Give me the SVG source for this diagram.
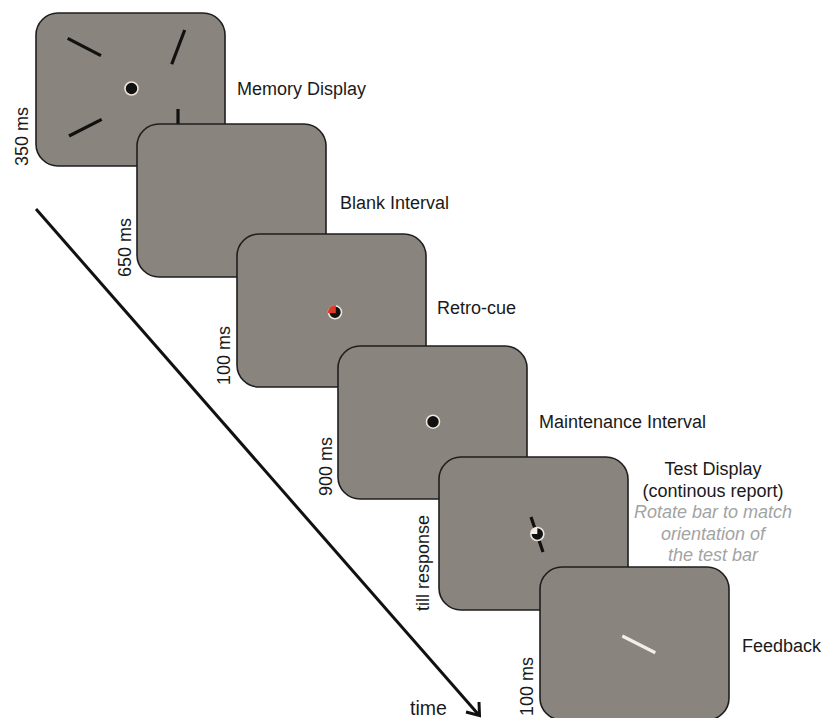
<svg xmlns="http://www.w3.org/2000/svg" width="822" height="718" viewBox="0 0 822 718">
<style>
.panel{fill:#8a847e;stroke:#1e1e1e;stroke-width:1.6}
.lbl{font-family:"Liberation Sans",Arial,sans-serif;font-size:18px;fill:#1a1a1a}
.note{font-family:"Liberation Sans",Arial,sans-serif;font-size:18px;fill:#a3a3a3;font-style:italic}
.bar{stroke:#111;stroke-width:3.2;stroke-linecap:butt}
.fix{fill:#111;stroke:#ece6dc;stroke-width:1.6}
</style>
<rect width="822" height="718" fill="#ffffff"/>
<g id="connectors">
<line x1="36" y1="209" x2="478" y2="714" stroke="#111" stroke-width="3"/>
<polyline points="479,702 479.5,715.5 466,712" fill="none" stroke="#111" stroke-width="3" stroke-linejoin="miter"/>
<text class="lbl" x="410" y="715" style="font-size:19.5px">time</text>
</g>
<g id="memory-display">
<rect class="panel" x="36" y="13" width="189" height="153" rx="22"/>
<line class="bar" x1="67.7" y1="38.3" x2="101" y2="55.7"/>
<line class="bar" x1="184.7" y1="30" x2="171.7" y2="64.3"/>
<line class="bar" x1="69" y1="136" x2="101.7" y2="119.3"/>
<line class="bar" x1="178" y1="109" x2="178" y2="146"/>
<circle class="fix" cx="131.5" cy="88.5" r="6.5"/>
<text class="lbl" x="237" y="95">Memory Display</text>
<text class="lbl" transform="translate(28,166) rotate(-90)">350 ms</text>
</g>
<g id="blank-interval">
<rect class="panel" x="137" y="124" width="189" height="153" rx="22"/>
<text class="lbl" x="340" y="209">Blank Interval</text>
<text class="lbl" transform="translate(130.5,277) rotate(-90)">650 ms</text>
</g>
<g id="retro-cue">
<rect class="panel" x="237" y="234" width="189" height="153" rx="22"/>
<circle class="fix" cx="335" cy="312.3" r="6.5"/>
<path d="M335.8,313.1 L327.8,313.1 A7.6,7.6 0 0 1 335.8,305 Z" fill="#e0392c"/>
<text class="lbl" x="437" y="314">Retro-cue</text>
<text class="lbl" transform="translate(229.5,385) rotate(-90)">100 ms</text>
</g>
<g id="maintenance-interval">
<rect class="panel" x="338" y="346" width="189" height="153" rx="22"/>
<circle class="fix" cx="433" cy="421.7" r="6.5"/>
<text class="lbl" x="539" y="428">Maintenance Interval</text>
<text class="lbl" transform="translate(332,496) rotate(-90)">900 ms</text>
</g>
<g id="test-display">
<rect class="panel" x="439" y="457" width="189" height="153" rx="22"/>
<line class="bar" x1="531" y1="517" x2="543" y2="552"/>
<circle class="fix" cx="537.3" cy="534" r="6.5"/>
<path d="M537.3,534 L530.8,534 A6.5,6.5 0 0 1 537.3,527.5 Z" fill="#f2eee6"/>
<text class="lbl" x="713" y="475" text-anchor="middle">Test Display</text>
<text class="lbl" x="713" y="496.5" text-anchor="middle">(continous report)</text>
<text class="note" x="713" y="518" text-anchor="middle">Rotate bar to match</text>
<text class="note" x="713" y="539.5" text-anchor="middle">orientation of</text>
<text class="note" x="713" y="561" text-anchor="middle">the test bar</text>
<text class="lbl" transform="translate(429,611) rotate(-90)">till response</text>
</g>
<g id="feedback">
<rect class="panel" x="540" y="567" width="189" height="153" rx="22"/>
<line x1="622.3" y1="636" x2="655.3" y2="652.7" stroke="#f3efe6" stroke-width="3.2"/>
<text class="lbl" x="742" y="652">Feedback</text>
<text class="lbl" transform="translate(533,716) rotate(-90)">100 ms</text>
</g>
</svg>
